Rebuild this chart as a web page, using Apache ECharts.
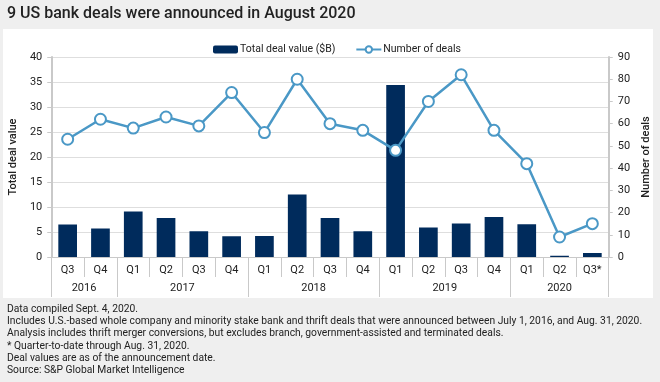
<!DOCTYPE html>
<html><head><meta charset="utf-8">
<script src="https://cdn.jsdelivr.net/npm/echarts@6/dist/echarts.min.js"></script>
<style>html,body{margin:0;padding:0;background:#efefef;}#c{width:660px;height:382px;}</style>
</head><body><div id="c"></div>
<script>
const quarters = ['Q3','Q4','Q1','Q2','Q3','Q4','Q1','Q2','Q3','Q4','Q1','Q2','Q3','Q4','Q1','Q2','Q3*'];
const years = ['2016','2017','2018','2019','2020'];
const yearCounts = [2,4,4,4,3];
const dealValue = [6.5,5.7,9.1,7.8,5.15,4.15,4.2,12.5,7.8,5.15,34.4,5.9,6.7,8.0,6.55,0.25,0.8];
const dealCount = [53,62,58,63,59,74,56,80,60,57,48,70,82,57,42,9,15];
const leftTicks = [0,5,10,15,20,25,30,35,40];
const rightTicks = [0,10,20,30,40,50,60,70,80,90];
const notes = [
  'Data compiled Sept. 4, 2020.',
  'Includes U.S.-based whole company and minority stake bank and thrift deals that were announced between July 1, 2016, and Aug. 31, 2020.',
  'Analysis includes thrift merger conversions, but excludes branch, government-assisted and terminated deals.',
  '* Quarter-to-date through Aug. 31, 2020.',
  'Deal values are as of the announcement date.',
  'Source: S&P Global Market Intelligence'
];

const bounds = [0];
yearCounts.forEach(c => bounds.push(bounds[bounds.length-1] + c));
const centers = years.map((y,i) => (bounds[i] + bounds[i+1]) / 2);

const FONT = 'Roboto';
const TXT = '#222';
const AX = '#c9c9c9';

const chart = echarts.init(document.getElementById('c'), null, {renderer:'canvas'});
chart.setOption({
  backgroundColor: '#efefef',
  animation: false,
  textStyle: {fontFamily: FONT},
  graphic: [
    {type:'rect', z:-10, shape:{x:3, y:29, width:650, height:269}, style:{fill:'#ffffff'}},
    {type:'text', left:7, top:6, style:{text:'9 US bank deals were announced in August 2020', font:'500 16px ' + FONT, fill:TXT}},
    {type:'text', left:7, top:303, style:{text:notes.join('\n'), font:'10.3px ' + FONT, fill:TXT, lineHeight:12.3}}
  ],
  legend: {
    left: 208, top: 39, itemGap: 20, itemWidth: 25, itemHeight: 8,
    textStyle: {fontSize: 10.5, color: TXT, fontFamily: FONT, padding:[0,0,0,-3]},
    data: ['Total deal value ($B)', 'Number of deals']
  },
  grid: {left: 43, right: 43, top: 57, bottom: 125, containLabel: false},
  xAxis: [
    {type:'category', data: quarters.map((q,i)=>String(i)), boundaryGap:true,
     axisLine:{show:true, lineStyle:{color:AX, width:1}},
     axisTick:{show:true, length:20, interval:0, lineStyle:{color:AX}},
     axisLabel:{interval:0, margin:8, fontSize:11, color:TXT, formatter:(v,i)=>quarters[i]},
     splitLine:{show:false}},
    {type:'value', min:0, max:bounds[bounds.length-1], position:'bottom',
     axisLine:{show:false},
     axisTick:{show:true, length:40, customValues:bounds, lineStyle:{color:AX, width:1}},
     axisLabel:{margin:26, fontSize:11, color:TXT, customValues:centers,
       formatter:(v)=>{const k=centers.indexOf(v); return k>=0?years[k]:'';}},
     splitLine:{show:false}}
  ],
  yAxis: [
    {type:'value', min:0, max:40, interval:5, name:'Total deal value', nameLocation:'middle', nameRotate:90, nameGap:26,
     nameTextStyle:{fontSize:11, color:TXT, fontWeight:500},
     axisLine:{show:true, lineStyle:{color:AX, width:2}},
     axisTick:{show:true, length:4, lineStyle:{color:AX}},
     axisLabel:{fontSize:11, color:TXT, margin:9},
     splitLine:{show:true, lineStyle:{color:'#dedede', width:1}}},
    {type:'value', min:0, max:90, interval:10, position:'right', name:'Number of deals', nameLocation:'middle', nameRotate:90, nameGap:26,
     nameTextStyle:{fontSize:11, color:TXT, fontWeight:500},
     axisLine:{show:true, lineStyle:{color:AX, width:2}},
     axisTick:{show:true, length:4, lineStyle:{color:AX}},
     axisLabel:{fontSize:11, color:TXT, margin:9},
     splitLine:{show:false}}
  ],
  series: [
    {name:'Total deal value ($B)', type:'bar', xAxisIndex:0, yAxisIndex:0, data:dealValue, barWidth:'57%',
     itemStyle:{color:'#002b5c'}},
    {name:'Number of deals', type:'line', xAxisIndex:0, yAxisIndex:1, data:dealCount,
     symbol:'circle', symbolSize:11, showAllSymbol:true,
     lineStyle:{color:'#4a98c6', width:2.5},
     itemStyle:{color:'#ffffff', borderColor:'#4a98c6', borderWidth:2}}
  ]
});
</script></body></html>
